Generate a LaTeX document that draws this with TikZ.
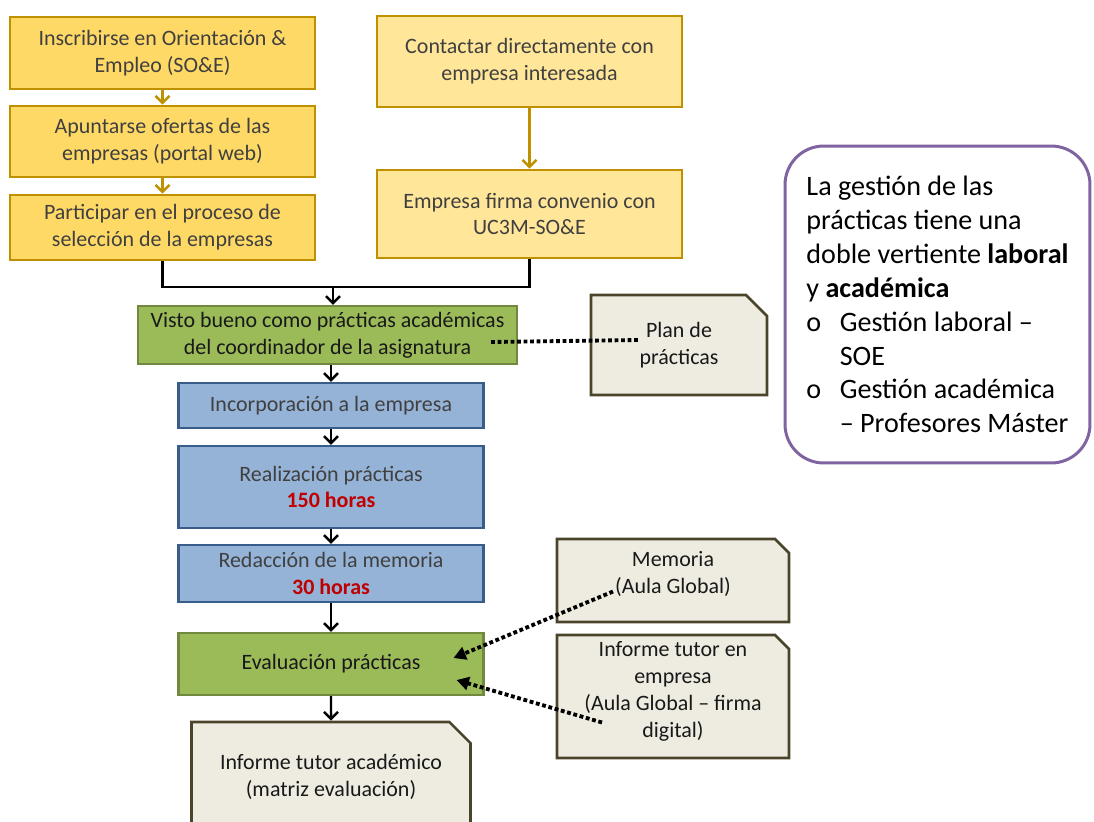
\documentclass[tikz,border=0pt]{standalone}
\usepackage{fontspec}
\setmainfont{Carlito}
\usepackage{tikz}
\usetikzlibrary{arrows.meta,shapes.misc,calc}
\usepackage{xcolor}
\definecolor{goldfill}{HTML}{FFD966}
\definecolor{goldlight}{HTML}{FFE699}
\definecolor{goldline}{HTML}{BF9000}
\definecolor{sagefill}{HTML}{9BBB59}
\definecolor{sageline}{HTML}{71893F}
\definecolor{bluefill}{HTML}{95B3D7}
\definecolor{blueline}{HTML}{385D8A}
\definecolor{notefill}{HTML}{EEECE1}
\definecolor{noteline}{HTML}{4A452A}
\definecolor{noteplum}{HTML}{8064A2}
\definecolor{hourred}{HTML}{C00000}
\definecolor{textgray}{HTML}{404040}
% note text lifted above the box centre without changing the box size
\newcommand{\liftnote}[2]{\raisebox{#1}[0pt][0pt]{\begin{tabular}{@{}c@{}}#2\end{tabular}}}

\begin{document}
\begin{tikzpicture}[x=0.02cm,y=-0.02cm,>={Straight Barb[length=4pt,width=8pt]},
  box/.style={draw,line width=1.5pt,align=center,font=\fontsize{12.5}{15.3}\selectfont,inner sep=2pt},
  goldbox/.style={box,draw=goldline,fill=goldfill,text=textgray,minimum width=6.1cm},
  lightbox/.style={box,draw=goldline,fill=goldlight,text=textgray,minimum width=6.1cm},
  sagebox/.style={box,line width=1.2pt,draw=sageline,fill=sagefill,text=black!90},
  bluebox/.style={box,line width=1.3pt,draw=blueline,fill=bluefill,text=textgray,minimum width=6.1cm},
  notebox/.style={box,draw=noteline,fill=notefill,text=black!90,chamfered rectangle,
    chamfered rectangle corners=north east,chamfered rectangle xsep=6pt,chamfered rectangle ysep=6pt},
  flow/.style={->,line width=1.4pt},
  dotline/.style={line width=2.2pt,dash pattern=on 2.2pt off 1.5pt},
  dotarrow/.style={dotline,-{Triangle[length=7pt,width=7.5pt]}}]
\useasboundingbox (0,0) rectangle (1094,821);
\clip (0,0) rectangle (1094,821);
% Left column: steps through the employment office
\node[goldbox,minimum height=1.44cm] (inscribir) at (162.5,53) {Inscribirse en Orientación \&\\Empleo (SO\&E)};
\node[goldbox,minimum height=1.42cm] (apuntar) at (162.5,141.5) {Apuntarse ofertas de las\\empresas (portal web)};
\node[goldbox,minimum height=1.3cm] (participar) at (162.5,227.5) {Participar en el proceso de\\selección de la empresas};
% Right column: direct contact
\node[lightbox,minimum height=1.82cm] (contactar) at (529.5,61.5) {Contactar directamente con\\empresa interesada};
\node[lightbox,minimum height=1.76cm] (convenio) at (529.5,214) {Empresa firma convenio con\\UC3M-SO\&E};
\draw[flow,goldline] (inscribir) -- (apuntar);
\draw[flow,goldline] (apuntar) -- (participar);
\draw[flow,goldline] (contactar) -- (convenio);
% Both routes meet above the approval step
\coordinate (juntar) at (333,287);
\node[sagebox,minimum width=7.58cm,minimum height=1.16cm] (visto) at (327.5,335) {Visto bueno como prácticas académicas\\del coordinador de la asignatura};
\draw[line width=1.4pt] (participar.south) |- (juntar) -| (convenio.south);
\draw[flow] (juntar) -- (juntar |- visto.north);
\node[notebox,minimum width=3.52cm,minimum height=2cm] (plan) at (679,345) {Plan de\\prácticas};
\draw[dotline] ($(visto.east)+(-27,7)$) -- ($(plan.west)+(49,-5)$);
% Academic internship steps
\node[bluebox,minimum height=0.9cm] (incorporar) at (331,405.5) {Incorporación a la empresa};
\node[bluebox,minimum height=1.64cm] (realizar) at (331,487) {Realización prácticas\\\textcolor{hourred}{\textbf{150 horas}}};
\node[bluebox,minimum height=1.14cm] (redactar) at (331,573.5) {Redacción de la memoria\\\textcolor{hourred}{\textbf{30 horas}}};
\node[sagebox,minimum width=6.1cm,minimum height=1.24cm] (evaluar) at (331,664) {Evaluación prácticas};
\node[notebox,minimum width=5.58cm,minimum height=2.2cm] (tutoracad) at (331,777) {Informe tutor académico\\(matriz evaluación)};
\draw[flow] (visto.south -| incorporar) -- (incorporar);
\draw[flow] (incorporar) -- (realizar);
\draw[flow] (realizar) -- (redactar);
\draw[flow] (redactar) -- (evaluar);
\draw[flow] (evaluar) -- (tutoracad);
% Documents feeding the evaluation
\node[notebox,minimum width=4.64cm,minimum height=1.66cm] (memoria) at (673,580.5) {\liftnote{0.3pt}{Memoria\\(Aula Global)}};
\node[notebox,minimum width=4.64cm,minimum height=2.46cm] (tutoremp) at (673,696.5) {\liftnote{-0.2pt}{Informe tutor en\\empresa\\(Aula Global -- firma\\digital)}};
\draw[dotarrow] ($(memoria.center)+(-60,11)$) -- ($(evaluar.east)+(-31,-6)$);
\draw[dotarrow] ($(tutoremp.center)+(-71,26)$) -- ($(evaluar.east)+(-28,16)$);
% Side note on the two kinds of management
\node[draw=noteplum,line width=1.7pt,rounded corners=22pt,fill=white,minimum width=6.1cm,minimum height=6.34cm,
  align=left,font=\fontsize{16}{19.3}\selectfont] (gestion) at (937.5,304.5)
  {La gestión de las\\prácticas tiene una\\doble vertiente \textbf{laboral}\\y \textbf{académica}\\
   \makebox[19pt][l]{o}Gestión laboral --\\\hspace*{19pt}SOE\\
   \makebox[19pt][l]{o}Gestión académica\\\hspace*{19pt}-- Profesores Máster};
\end{tikzpicture}
\end{document}
